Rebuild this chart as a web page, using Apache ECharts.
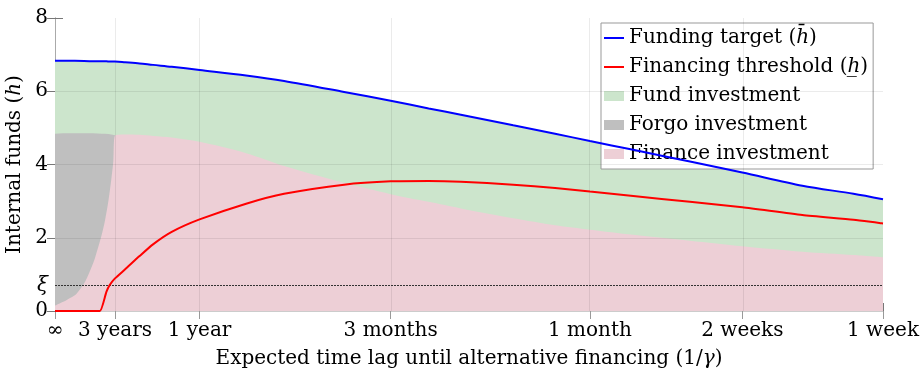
<!DOCTYPE html>
<html>
<head>
<meta charset="utf-8">
<script src="https://cdn.jsdelivr.net/npm/echarts@6/dist/echarts.min.js"></script>
<style>html,body{margin:0;padding:0;background:#fff}#c{width:922px;height:372px}</style>
</head>
<body>
<div id="c"></div>
<script>
// ---- data (gamma = 1 / expected lag, per year) ----
const tickGammas = [0, 1/3, 1, 4, 12, 26, 52];
const tickLabels = ['∞', '3 years', '1 year', '3 months', '1 month', '2 weeks', '1 week'];
const yTickValues = [0, 2, 4, 6, 8];
const xiValue = 0.7;

const gammaMain = [0, 0.1, 0.2, 0.24, 0.28, 0.3, 0.3333, 0.4, 0.5, 0.6, 0.75, 1, 1.5, 2, 3, 4, 5, 6, 8, 10, 12, 15, 20, 26, 35, 45, 52];
const fundingTarget = [6.83, 6.83, 6.82, 6.82, 6.82, 6.81, 6.81, 6.79, 6.76, 6.72, 6.67, 6.58, 6.43, 6.28, 5.98, 5.74, 5.53, 5.36, 5.07, 4.84, 4.64, 4.40, 4.08, 3.78, 3.42, 3.20, 3.05];
const financingThreshold = [0, 0, 0, 0, 0.53, 0.71, 0.89, 1.14, 1.50, 1.82, 2.16, 2.50, 2.93, 3.20, 3.45, 3.54, 3.55, 3.53, 3.45, 3.36, 3.26, 3.14, 2.98, 2.83, 2.62, 2.49, 2.39];

const gammaFinance = [0.3333, 0.4, 0.5, 0.6, 0.75, 1, 1.5, 2, 3, 4, 5, 6, 8, 10, 12, 15, 20, 26, 35, 45, 52];
const financeUpper = [4.79, 4.82, 4.81, 4.78, 4.74, 4.62, 4.31, 3.96, 3.50, 3.19, 2.98, 2.80, 2.53, 2.34, 2.22, 2.08, 1.92, 1.77, 1.62, 1.53, 1.47];

const gammaForgo = [0, 0.005, 0.04, 0.08, 0.11, 0.155, 0.2, 0.211, 0.251, 0.27, 0.291, 0.31, 0.3225, 0.3333];
const forgoLower = [0.15, 0.16, 0.25, 0.37, 0.48, 0.80, 1.30, 1.44, 2.08, 2.45, 2.98, 3.60, 4.08, 4.79];
const forgoUpper = [4.84, 4.84, 4.85, 4.85, 4.85, 4.85, 4.85, 4.85, 4.84, 4.84, 4.83, 4.82, 4.81, 4.80];

// ---- helpers ----
const toX = g => Math.log(1 + g);
const pts = (gs, vs) => gs.map((g, i) => [toX(g), vs[i]]);
const tickX = tickGammas.map(toX);
const xMax = toX(52);
const FONT = 'DejaVu Serif';
const FS = 20;
const RICH = { i: { fontFamily: FONT, fontSize: FS, fontStyle: 'italic', color: '#000' } };

const financeData = pts(gammaForgo.slice(0, -1), forgoLower.slice(0, -1)).concat(pts(gammaFinance, financeUpper));

const gridLines = tickX.slice(1, -1).map(v => ({ xAxis: v }))
  .concat([2, 4, 6].map(v => ({ yAxis: v })));

const chart = echarts.init(document.getElementById('c'), null, { renderer: 'canvas' });
chart.setOption({
  animation: false,
  textStyle: { fontFamily: FONT },
  grid: { left: 55, right: 39, top: 18, bottom: 61, containLabel: false, outerBoundsMode: 'none' },
  xAxis: [{
    type: 'value', min: 0, max: xMax, position: 'bottom',
    name: 'Expected time lag until alternative financing (1/{i|γ})',
    nameLocation: 'middle', nameGap: 38,
    nameTextStyle: { fontFamily: FONT, fontSize: FS, color: '#000', rich: RICH },
    axisLine: { show: true, lineStyle: { color: '#aaa', width: 1 } },
    axisTick: { show: true, inside: true, length: 8, customValues: tickX, lineStyle: { color: '#777' } },
    axisLabel: {
      customValues: tickX, fontFamily: FONT, fontSize: FS, color: '#000', margin: 10,
      formatter: v => { let b = 0; tickX.forEach((t, i) => { if (Math.abs(t - v) < Math.abs(tickX[b] - v)) b = i; }); return tickLabels[b]; }
    },
    splitLine: { show: false }
  }, {
    type: 'value', min: 0, max: xMax, position: 'top',
    axisLine: { show: true, lineStyle: { color: '#ccc', width: 1 } },
    axisTick: { show: true, inside: true, length: 8, customValues: tickX, lineStyle: { color: '#999' } },
    axisLabel: { show: false }, splitLine: { show: false }
  }],
  yAxis: [{
    type: 'value', min: 0, max: 8, position: 'left',
    name: 'Internal funds ({i|h})', nameLocation: 'middle', nameGap: 22,
    nameTextStyle: { fontFamily: FONT, fontSize: FS, color: '#000', rich: RICH },
    axisLine: { show: true, lineStyle: { color: '#aaa', width: 1 } },
    axisTick: { show: true, inside: true, length: 8, customValues: yTickValues, lineStyle: { color: '#777' } },
    axisLabel: {
      customValues: [0, xiValue, 2, 4, 6, 8], fontFamily: FONT, fontSize: FS, color: '#000', margin: 7,
      formatter: v => Math.abs(v - xiValue) < 1e-6 ? '{i|ξ}' : String(v),
      rich: RICH
    },
    splitLine: { show: false }
  }, {
    type: 'value', min: 0, max: 8, position: 'right',
    axisLine: { show: true, lineStyle: { color: '#aaa', width: 1 } },
    axisTick: { show: true, inside: true, length: 8, customValues: yTickValues, lineStyle: { color: '#777' } },
    axisLabel: { show: false }, splitLine: { show: false }
  }],
  legend: {
    orient: 'vertical', left: 601, top: 23,
    padding: [3, 5, 3, 2], itemGap: 5, itemWidth: 20, itemHeight: 10,
    backgroundColor: '#fff', borderColor: '#999', borderWidth: 1, borderRadius: 0,
    textStyle: { fontFamily: FONT, fontSize: FS, color: '#000', lineHeight: 24, rich: RICH },
    formatter: n => n === 'Funding target' ? 'Funding target ({i|h\u0304})' : (n === 'Financing threshold' ? 'Financing threshold ({i|h\u0332})' : n),
    data: [
      { name: 'Funding target', itemStyle: { opacity: 0 } },
      { name: 'Financing threshold', itemStyle: { opacity: 0 } },
      { name: 'Fund investment', icon: 'rect', itemStyle: { color: '#cce5cc' } },
      { name: 'Forgo investment', icon: 'rect', itemStyle: { color: '#bfbfbf' } },
      { name: 'Finance investment', icon: 'rect', itemStyle: { color: '#edcfd6' } }
    ]
  },
  series: [
    { name: 'Fund investment', type: 'line', z: 1, data: pts(gammaMain, fundingTarget), symbol: 'none', smooth: 0.3,
      color: '#cce5cc', lineStyle: { width: 0, opacity: 0 }, areaStyle: { color: '#cce5cc', opacity: 1 } },
    { name: 'Forgo investment', type: 'line', z: 2, data: pts(gammaForgo, forgoUpper), symbol: 'none',
      color: '#bfbfbf', lineStyle: { width: 0, opacity: 0 }, areaStyle: { color: '#bfbfbf', opacity: 1 } },
    { name: 'Finance investment', type: 'line', z: 3, data: financeData, symbol: 'none', smooth: 0.3,
      color: '#edcfd6', lineStyle: { width: 0, opacity: 0 }, areaStyle: { color: '#edcfd6', opacity: 1 },
      markLine: { silent: true, symbol: ['none', 'none'], label: { show: false },
        lineStyle: { color: 'rgba(0,0,0,0.08)', width: 1, type: 'solid' },
        data: gridLines.concat([{ yAxis: xiValue, lineStyle: { color: '#333', width: 1, type: [2, 1] } }]) } },
    { name: 'Funding target', type: 'line', z: 5, data: pts(gammaMain, fundingTarget), symbol: 'none', smooth: 0.3,
      color: '#0000ff', lineStyle: { color: '#0000ff', width: 2 } },
    { name: 'Financing threshold', type: 'line', z: 5, data: pts(gammaMain, financingThreshold), symbol: 'none', smooth: 0.2,
      color: '#ff0000', lineStyle: { color: '#ff0000', width: 2 } }
  ]
});
</script>
</body>
</html>
